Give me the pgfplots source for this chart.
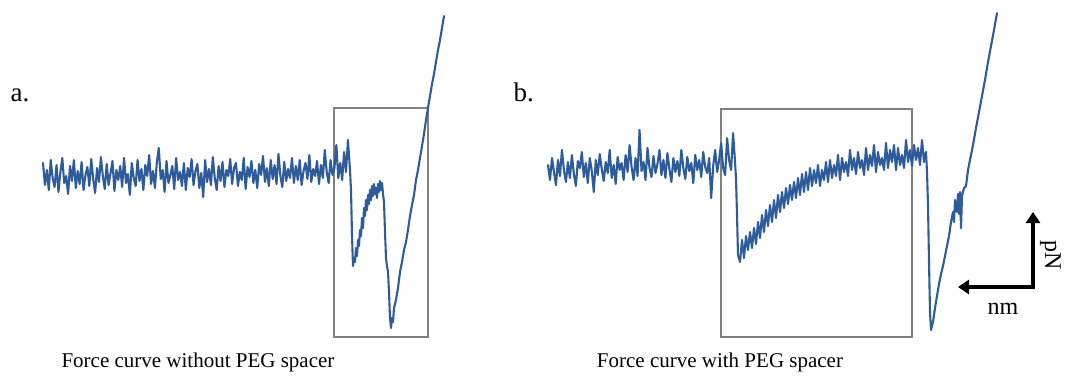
\documentclass[border=0pt]{standalone}
\usepackage{pgfplots}
\pgfplotsset{compat=1.18}
\usepackage{fontspec}
\setmainfont{Liberation Serif}
\usetikzlibrary{arrows.meta}
\definecolor{curve}{RGB}{46,92,155}
\definecolor{boxgray}{RGB}{128,128,128}
\tikzset{fc/.style={color=curve, solid, line width=2.1pt, line join=round, line cap=round, mark=none}}
\begin{document}
\begin{tikzpicture}
\begin{axis}[
  scale only axis, width=1067pt, height=383pt,
  xmin=0, xmax=1067, ymin=0, ymax=383, y dir=reverse,
  hide axis, clip=false,
]
% gray boxes
\draw[boxgray, line width=2.6pt] (axis cs:334,108) rectangle (axis cs:428,337);
\draw[boxgray, line width=2.6pt] (axis cs:721,109) rectangle (axis cs:912,337);

% ---- panel a: baseline
\addplot[fc] table[row sep=\\, x expr=43+\coordindex*1.93, y=y] {
y\\
163\\185\\170\\190\\160\\178\\187\\165\\192\\172\\158\\183\\176\\194\\166\\181\\160\\188\\171\\184\\
162\\190\\175\\167\\186\\159\\179\\193\\168\\182\\157\\176\\189\\164\\185\\173\\161\\191\\170\\180\\
166\\187\\158\\183\\174\\195\\163\\178\\186\\160\\181\\169\\190\\165\\176\\155\\184\\171\\188\\162\\
148\\179\\170\\192\\161\\183\\175\\166\\189\\158\\180\\172\\186\\163\\190\\168\\177\\159\\185\\171\\
164\\188\\173\\197\\160\\182\\169\\185\\157\\178\\190\\166\\181\\162\\187\\170\\176\\159\\184\\168\\
163\\186\\172\\180\\158\\189\\167\\177\\161\\183\\170\\188\\164\\175\\156\\182\\168\\186\\160\\179\\
165\\184\\154\\176\\187\\162\\181\\169\\178\\158\\183\\166\\180\\160\\185\\171\\163\\179\\155\\182\\
169\\176\\161\\184\\165\\178\\150\\172\\183\\160\\175\\168\\145\\178\\163\\180\\152\\172\\140\\168\\
};
% ---- panel a: rupture events and contact line
\addplot[fc] coordinates {
(349.9,168) (351,190) (352,235) (353,266) (354,258) (355,262) (356,248) (357,256)
(358,240) (359,246) (360,230) (361,236) (362,218) (363,228) (364,208) (365,216)
(366,200) (367,210) (368,195) (369,204) (370,190) (371,200) (372,186) (373,196)
(374,184) (375,194) (376,188) (377,198) (378,184) (379,192) (380,181) (381,190)
(382,183) (383,194) (384,202) (385,232) (386,258) (387,266) (388,272) (389,292)
(390,318) (391,328) (392,318) (393,322) (394,308) (396,300) (398,288) (400,272)
(402,262) (404,250) (406,242) (408,230) (410,216) (412,205) (414,195) (416,180)
(418,170) (420,158) (422,146) (424,134) (426,120) (428,108) (430,96) (432,84)
(434,74) (436,62) (438,50) (440,40) (442,28) (444,16)
};

% ---- panel b: baseline
\addplot[fc] table[row sep=\\, x expr=548+\coordindex*1.99, y=y] {
y\\
165\\180\\158\\172\\185\\160\\176\\150\\170\\182\\162\\178\\155\\174\\186\\161\\168\\152\\177\\163\\
183\\158\\171\\192\\160\\175\\154\\169\\181\\162\\173\\150\\178\\165\\184\\157\\170\\163\\180\\155\\
172\\145\\167\\180\\158\\176\\130\\171\\162\\180\\148\\168\\177\\156\\173\\164\\150\\175\\160\\178\\
153\\169\\182\\158\\172\\161\\176\\150\\168\\179\\157\\171\\163\\183\\155\\170\\160\\177\\152\\167\\
173\\158\\198\\166\\150\\172\\160\\143\\168\\175\\138\\160\\170\\133\\162\\
};
\addplot[fc] coordinates {(735,162) (736,178) (737,215) (738,255)};
% ---- panel b: recovery after detachment
\addplot[fc] table[row sep=\\, x expr=738+2*\coordindex, y=y] {
y\\
255\\262\\240\\258\\236\\250\\232\\248\\228\\244\\
222\\238\\215\\232\\210\\226\\205\\222\\200\\218\\
195\\212\\192\\208\\188\\204\\185\\200\\182\\198\\
178\\195\\174\\192\\172\\190\\168\\186\\170\\183\\
165\\186\\170\\180\\162\\182\\160\\178\\165\\176\\
155\\180\\158\\172\\162\\176\\150\\170\\158\\174\\
152\\168\\160\\175\\148\\170\\155\\166\\145\\172\\
152\\165\\158\\170\\143\\168\\150\\162\\145\\170\\
148\\165\\155\\168\\140\\162\\150\\166\\145\\160\\
148\\165\\140\\162\\152\\
};
% ---- panel b: final rupture and contact line
\addplot[fc] coordinates {
(926,152) (927,172) (928,205) (929,262) (930,312) (931,330) (933,322) (935,308)
(937,296) (939,284) (941,274) (943,266) (945,256) (947,246) (949,236) (951,222)
(953,212) (954,222) (955,200) (957,212) (958,194) (959,214) (960,192) (961,228)
(962,196) (964,188) (966,186) (968,170) (970,160) (973,145) (976,128) (979,112)
(982,96) (985,80) (988,62) (991,46) (994,30) (997,13)
};

% ---- texts
\node[anchor=base west, font=\fontsize{27}{30}\selectfont] at (axis cs:7,101) {a.};
\node[anchor=base west, font=\fontsize{27}{30}\selectfont] at (axis cs:510,101) {b.};
\node[anchor=base, font=\fontsize{21}{26}\selectfont] at (axis cs:198,367) {Force curve without PEG spacer};
\node[anchor=base, font=\fontsize{21}{26}\selectfont] at (axis cs:720,367) {Force curve with PEG spacer};
\node[anchor=base, font=\fontsize{24}{26}\selectfont] at (axis cs:1003,314) {nm};
\node[rotate=-90, anchor=base, font=\fontsize{24}{26}\selectfont] at (axis cs:1045,255) {pN};

% scale indicator arrows
\draw[line width=3.5pt, -{Triangle[length=11pt, width=14pt]}] (axis cs:1033,287) -- (axis cs:1033,212);
\draw[line width=3.5pt, -{Triangle[length=11pt, width=14pt]}] (axis cs:1034.7,287) -- (axis cs:958,287);
\end{axis}
\pgfresetboundingbox
\path (current axis.south west) rectangle (current axis.north east);
\end{tikzpicture}
\end{document}
